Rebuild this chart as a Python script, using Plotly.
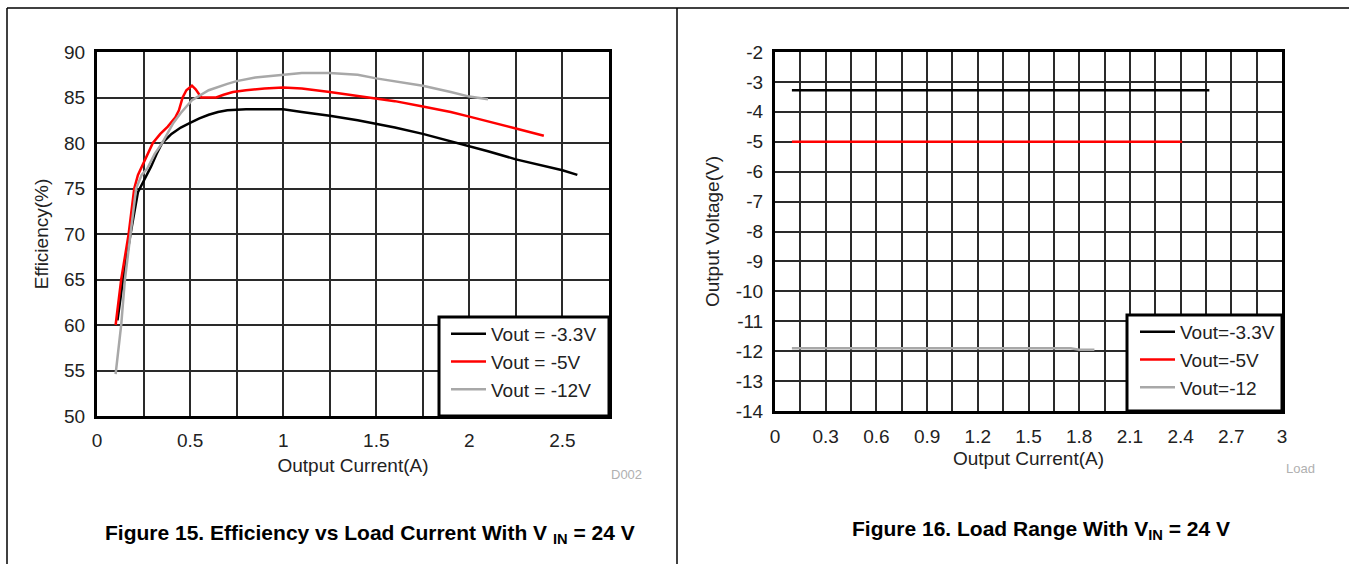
import plotly.graph_objects as go

W, H = 1349, 564

# ---------------- Figure 15 data: efficiency vs output current ----------------
eff_names = ["Vout = -3.3V", "Vout = -5V", "Vout = -12V"]
eff_i_33 = [0.11, 0.14, 0.18, 0.22, 0.25, 0.29, 0.32, 0.35, 0.40, 0.45, 0.50, 0.55, 0.60, 0.65,
            0.70, 0.80, 0.90, 1.00, 1.10, 1.25, 1.40, 1.50, 1.60, 1.75, 1.90, 2.00, 2.10, 2.25,
            2.40, 2.50, 2.58]
eff_33 = [60.5, 65.0, 70.0, 74.6, 75.8, 77.4, 78.8, 80.0, 81.0, 81.7, 82.2, 82.7, 83.1, 83.4,
          83.6, 83.7, 83.7, 83.7, 83.4, 83.0, 82.5, 82.1, 81.7, 81.0, 80.2, 79.6, 79.1, 78.2,
          77.5, 77.0, 76.5]
eff_i_5 = [0.10, 0.13, 0.17, 0.20, 0.22, 0.25, 0.27, 0.30, 0.34, 0.38, 0.42, 0.44, 0.46, 0.48,
           0.51, 0.53, 0.56, 0.60, 0.64, 0.68, 0.73, 0.80, 0.90, 1.00, 1.10, 1.25, 1.40, 1.50,
           1.60, 1.75, 1.90, 2.00, 2.10, 2.25, 2.40]
eff_5 = [60.0, 65.0, 70.0, 75.0, 76.5, 77.8, 78.7, 80.0, 81.0, 81.8, 82.8, 83.6, 85.0, 85.8,
         86.3, 85.9, 85.0, 85.0, 85.0, 85.3, 85.6, 85.8, 86.0, 86.1, 86.0, 85.6, 85.2, 84.9,
         84.6, 84.0, 83.4, 82.9, 82.4, 81.6, 80.8]
eff_i_12 = [0.10, 0.12, 0.13, 0.15, 0.18, 0.21, 0.24, 0.27, 0.31, 0.35, 0.41, 0.45, 0.51, 0.60,
            0.70, 0.75, 0.85, 1.00, 1.10, 1.25, 1.40, 1.50, 1.60, 1.75, 1.90, 2.00, 2.10]
eff_12 = [54.6, 58.0, 60.0, 65.0, 70.0, 75.0, 76.5, 77.2, 78.8, 80.0, 82.2, 83.3, 84.7, 85.8,
          86.5, 86.8, 87.2, 87.5, 87.7, 87.7, 87.5, 87.1, 86.8, 86.3, 85.6, 85.1, 84.8]

# ---------------- Figure 16 data: output voltage vs output current ----------------
load_names = ["Vout=-3.3V", "Vout=-5V", "Vout=-12"]
load_i_33 = [0.10, 2.57]
load_v_33 = [-3.28, -3.28]
load_i_5 = [0.10, 2.41]
load_v_5 = [-5.0, -5.0]
load_i_12 = [0.10, 1.75, 1.80, 1.89]
load_v_12 = [-11.90, -11.90, -11.95, -11.95]
load_v_ticks = [-2, -3, -4, -5, -6, -7, -8, -9, -10, -11, -12, -13, -14]
load_v_ticklabels = ["-2", "-3", "-4", "-5", "-6", "-7", "-8", "-9", "-10", "-11", "-12", "-13", "-14"]

colors = ["#000000", "#ff0000", "#a8a8a8"]
FONT = "Liberation Sans, Arial, sans-serif"


def px_x(p):
    return p / W


def px_y(p):
    return 1 - p / H


fig = go.Figure()

for xs, ys, nm, c in zip([eff_i_33, eff_i_5, eff_i_12], [eff_33, eff_5, eff_12], eff_names, colors):
    fig.add_trace(go.Scatter(x=xs, y=ys, name=nm, mode="lines", line=dict(color=c, width=2.5),
                             xaxis="x", yaxis="y", legend="legend"))

for xs, ys, nm, c in zip([load_i_33, load_i_5, load_i_12], [load_v_33, load_v_5, load_v_12], load_names, colors):
    fig.add_trace(go.Scatter(x=xs, y=ys, name=nm, mode="lines", line=dict(color=c, width=2.5),
                             xaxis="x2", yaxis="y2", legend="legend2"))

grid = dict(showgrid=True, gridcolor="#2a2a2a", gridwidth=1.5, zeroline=False,
            showline=True, linecolor="#000000", linewidth=3, mirror=True, ticks="",
            automargin=False,
            tickfont=dict(family=FONT, size=19, color="#222222"))
title_font = dict(family=FONT, size=19, color="#222222")
leg_font = dict(family=FONT, size=19, color="#222222")

fig.update_layout(
    width=W, height=H,
    margin=dict(l=0, r=0, t=0, b=0, pad=0, autoexpand=False),
    paper_bgcolor="white", plot_bgcolor="white",
    showlegend=True,
    xaxis=dict(domain=[px_x(97), px_x(609)], range=[0, 2.75], dtick=0.5, tick0=0,
               minor=dict(dtick=0.25, showgrid=True, gridcolor="#2a2a2a", gridwidth=1.5),
               title=dict(text="Output Current(A)", font=title_font, standoff=9),
               ticklabelstandoff=5, anchor="y", **grid),
    yaxis=dict(domain=[px_y(416), px_y(52)], range=[50, 90], dtick=5, tick0=50,
               title=dict(text="Efficiency(%)", font=title_font, standoff=11),
               ticklabelstandoff=5, anchor="x", **grid),
    xaxis2=dict(domain=[px_x(775), px_x(1282)], range=[0, 3], dtick=0.3, tick0=0,
                minor=dict(dtick=0.15, showgrid=True, gridcolor="#2a2a2a", gridwidth=1.5),
                title=dict(text="Output Current(A)", font=title_font, standoff=6),
                ticklabelstandoff=6, anchor="y2", **grid),
    yaxis2=dict(domain=[px_y(411), px_y(52)], range=[-14, -2],
                tickmode="array", tickvals=load_v_ticks, ticktext=load_v_ticklabels,
                title=dict(text="Output Voltage(V)", font=title_font, standoff=12),
                ticklabelstandoff=5, anchor="x2", **grid),
    legend=dict(x=px_x(446), y=px_y(362), xanchor="left", yanchor="middle",
                bgcolor="rgba(0,0,0,0)", borderwidth=0, itemwidth=35,
                font=leg_font, tracegroupgap=0),
    legend2=dict(x=px_x(1135), y=px_y(360), xanchor="left", yanchor="middle",
                 bgcolor="rgba(0,0,0,0)", borderwidth=0, itemwidth=35,
                 font=leg_font, tracegroupgap=0),
)

shapes = [
    # page frame
    dict(type="line", xref="paper", yref="paper", x0=px_x(7), x1=px_x(1349), y0=px_y(8), y1=px_y(8),
         line=dict(color="black", width=1.5)),
    dict(type="line", xref="paper", yref="paper", x0=px_x(7), x1=px_x(7), y0=px_y(8), y1=0,
         line=dict(color="black", width=1.5)),
    dict(type="line", xref="paper", yref="paper", x0=px_x(677), x1=px_x(677), y0=px_y(8), y1=0,
         line=dict(color="black", width=1.5)),
    # legend boxes
    dict(type="rect", xref="paper", yref="paper", x0=px_x(439), x1=px_x(609), y0=px_y(416), y1=px_y(317),
         fillcolor="white", line=dict(color="black", width=3), layer="above"),
    dict(type="rect", xref="paper", yref="paper", x0=px_x(1127), x1=px_x(1282), y0=px_y(411), y1=px_y(315),
         fillcolor="white", line=dict(color="black", width=3), layer="above"),
]
fig.update_layout(shapes=shapes)

annotations = [
    dict(text="D002", x=px_x(626), y=px_y(474), xref="paper", yref="paper", showarrow=False,
         font=dict(family=FONT, size=13, color="#b0b0b0"), xanchor="center", yanchor="middle"),
    dict(text="Load", x=px_x(1300), y=px_y(468), xref="paper", yref="paper", showarrow=False,
         font=dict(family=FONT, size=13, color="#b0b0b0"), xanchor="center", yanchor="middle"),
    dict(text="<b>Figure 15. Efficiency vs Load Current With V <sub>IN</sub> = 24 V</b>",
         x=px_x(370), y=px_y(534), xref="paper", yref="paper", showarrow=False,
         font=dict(family=FONT, size=21, color="#000000"), xanchor="center", yanchor="middle"),
    dict(text="<b>Figure 16. Load Range With V<sub>IN</sub> = 24 V</b>",
         x=px_x(1041), y=px_y(530), xref="paper", yref="paper", showarrow=False,
         font=dict(family=FONT, size=21, color="#000000"), xanchor="center", yanchor="middle"),
]
fig.update_layout(annotations=annotations)

fig.write_html(
    "out.html",
    config={"displayModeBar": False},
    post_script="document.body.style.margin='0';document.body.style.padding='0';"
                "document.documentElement.style.overflow='hidden';document.body.style.overflow='hidden';",
)
